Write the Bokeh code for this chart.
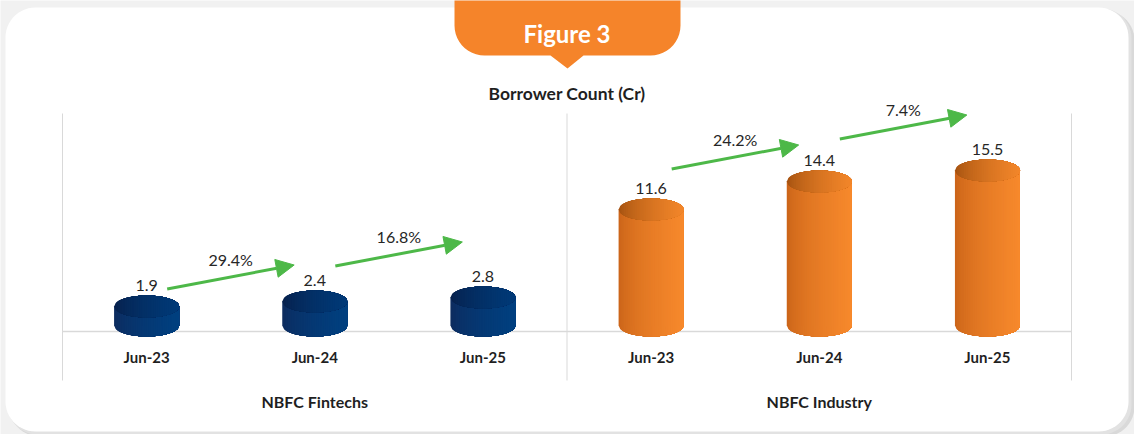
import numpy as np
from bokeh.plotting import figure
from bokeh.models import Range1d, ColumnDataSource, Arrow, NormalHead
from bokeh.core.properties import value
from bokeh.embed import file_html
from bokeh.resources import INLINE

# ---------------- data ----------------
groups = ["NBFC Fintechs", "NBFC Industry"]
periods = ["Jun-23", "Jun-24", "Jun-25"]
fintech = [1.9, 2.4, 2.8]
industry = [11.6, 14.4, 15.5]
fintech_growth = ["29.4%", "16.8%"]
industry_growth = ["24.2%", "7.4%"]
title = "Borrower Count (Cr)"
badge = "Figure 3"

# ---------------- layout helpers (reference pixel -> data) ----------------
W, H = 1134, 434
SX = 168.17   # px per category slot
SY = 10.0     # px per crore
Y0_PX = 331   # pixel row of the value-axis zero line


def rx2x(rx):
    return -0.5 + (rx - 62) / SX


def ry2y(ry):
    return (Y0_PX - ry) / SY


FONT = value("Lato")
TXT = "#262626"
GREEN = "#4db848"

p = figure(width=W, height=H, x_range=Range1d(rx2x(0), rx2x(W)),
           y_range=Range1d(ry2y(H), ry2y(0)), min_border=0,
           toolbar_location=None, output_backend="svg",
           x_axis_location=None, y_axis_location=None,
           outline_line_color=None, background_fill_color="#f1f1f1",
           border_fill_color="#f1f1f1")
p.grid.grid_line_color = None


def rounded_rect(l, t, r, b, rad, n=14):
    pts = []
    corners = [(r - rad, t + rad, -90, 0), (r - rad, b - rad, 0, 90),
               (l + rad, b - rad, 90, 180), (l + rad, t + rad, 180, 270)]
    for cx, cy, a0, a1 in corners:
        for a in np.linspace(np.radians(a0), np.radians(a1), n):
            pts.append((cx + rad * np.cos(a), cy + rad * np.sin(a)))
    xs = [rx2x(px) for px, _ in pts]
    ys = [ry2y(py) for _, py in pts]
    return xs, ys


# card shadow + card
sx, sy = rounded_rect(9, 10, 1134, 436, 30)
p.patch(sx, sy, fill_color="#d9d9d9", line_color=None)
sx, sy = rounded_rect(7, 8, 1131, 434, 30)
p.patch(sx, sy, fill_color="#e2e2e2", line_color=None)
cx_, cy_ = rounded_rect(5, 7, 1128, 431, 30)
p.patch(cx_, cy_, fill_color="white", line_color=None)

# badge tab
tab = [(454, -5), (454, 25)]
for a in np.linspace(np.pi, np.pi / 2, 12):
    tab.append((484 + 30 * np.cos(a), 25 + 30 * np.sin(a)))
tab += [(550, 55), (567, 68), (583, 55)]
for a in np.linspace(np.pi / 2, 0, 12):
    tab.append((650 + 30 * np.cos(a), 25 + 30 * np.sin(a)))
tab += [(680, -5)]
p.patch([rx2x(a) for a, _ in tab], [ry2y(b) for _, b in tab],
        fill_color="#f5842a", line_color=None)

# axis structure lines
n_slots = len(periods) * len(groups)
sep_x = [-0.5 + k * len(periods) for k in range(len(groups) + 1)]
p.segment(x0=sep_x, x1=sep_x, y0=[ry2y(113)] * len(sep_x), y1=[ry2y(380)] * len(sep_x),
          line_color="#d9d9d9", line_width=1)
p.segment(x0=[-0.5], x1=[n_slots - 0.5], y0=[0], y1=[0],
          line_color="#d9d9d9", line_width=1.5)

# ---------------- cylinders ----------------
HW = 32.5 / SX     # half width (data units)
EB = 11 / SY       # ellipse half height (data units)
DEPTH = 6 / SY     # 3-D depth shift of the cylinder axis
NS = 36


def lerp(c0, c1, t):
    return "#%02x%02x%02x" % tuple(int(round(a + (b - a) * t)) for a, b in zip(c0, c1))


def cylinders(xc_list, vals, body_l, body_r, top_l, top_r):
    bxs, bys, bcs = [], [], []
    txs, tys, tcs = [], [], []
    edges = np.linspace(-1, 1, NS + 1)[:-1]
    for xc, v in zip(xc_list, vals):
        top, base = v + DEPTH, DEPTH
        for k, u0 in enumerate(edges):
            us = np.linspace(u0, 1, 40)
            t = min((u0 + 1) / 2 + 1 / NS / 2, 1)
            col_b = lerp(body_l, body_r, t ** 0.6)
            col_t = lerp(top_l, top_r, t ** 0.6)
            half = EB * np.sqrt(np.clip(1 - us ** 2, 0, 1))
            bxs.append(list(xc + HW * np.r_[u0, 1.0, us[::-1]]))
            bys.append(list(np.r_[top, top, base - half[::-1]]))
            bcs.append(col_b)
            txs.append(list(xc + HW * np.r_[us, us[::-1]]))
            tys.append(list(np.r_[top + half, top - half[::-1]]))
            tcs.append(col_t)
    p.patches(bxs, bys, fill_color=bcs, line_color=None)
    p.patches(txs, tys, fill_color=tcs, line_color=None)


series = [fintech, industry]
growths = [fintech_growth, industry_growth]
palettes = [((14, 42, 92), (0, 64, 128), (8, 30, 72), (0, 58, 120)),
            ((200, 98, 24), (247, 137, 44), (158, 78, 14), (243, 134, 42))]
lift = [4.8, 6.7]

for g, vals in enumerate(series):
    xs = [g * len(periods) + i for i in range(len(periods))]
    cylinders(xs, vals, *palettes[g])
    p.text(x=xs, y=vals, text=[f"{v:.1f}" for v in vals], text_font=FONT,
           text_font_size="16px", text_color=TXT, text_align="center",
           text_baseline="middle", y_offset=-27)
    p.text(x=xs, y=[ry2y(356)] * len(xs), text=periods, text_font=FONT,
           text_font_size="15px", text_font_style="bold", text_color="#1f1f1f",
           text_align="center", text_baseline="middle")
    gx, gy = [], []
    for k, lab in enumerate(growths[g]):
        gx.append(xs[k] + 0.5)
        gy.append(max(vals[k], vals[k + 1]) + lift[k])
    p.text(x=gx, y=gy, text=growths[g], text_font=FONT, text_font_size="16px",
           text_color=TXT, text_align="center", text_baseline="middle")
    my = [y - 17.5 / SY for y in gy]
    dx, dy = 63.5 / SX, 12 / SY
    src = ColumnDataSource(dict(x0=[x - dx for x in gx], x1=[x + dx for x in gx],
                                y0=[y - dy for y in my], y1=[y + dy for y in my]))
    p.add_layout(Arrow(source=src, x_start="x0", y_start="y0", x_end="x1", y_end="y1",
                       line_color=GREEN, line_width=3,
                       end=NormalHead(size=18, fill_color=GREEN, line_color=GREEN)))

p.text(x=[g * len(periods) + (len(periods) - 1) / 2 for g in range(len(groups))],
       y=[ry2y(401)] * len(groups), text=groups, text_font=FONT,
       text_font_size="16px", text_font_style="bold", text_color="#1f1f1f",
       text_align="center", text_baseline="middle")

p.text(x=[(n_slots - 1) / 2], y=[ry2y(93)], text=[title], text_font=FONT,
       text_font_size="17.5px", text_font_style="bold", text_color="#1f1f1f",
       text_align="center", text_baseline="middle")
p.text(x=[(n_slots - 1) / 2], y=[ry2y(33)], text=[badge], text_font=FONT,
       text_font_size="24px", text_font_style="bold", text_color="white",
       text_align="center", text_baseline="middle")

open("out.html", "w").write(file_html(p, INLINE))
